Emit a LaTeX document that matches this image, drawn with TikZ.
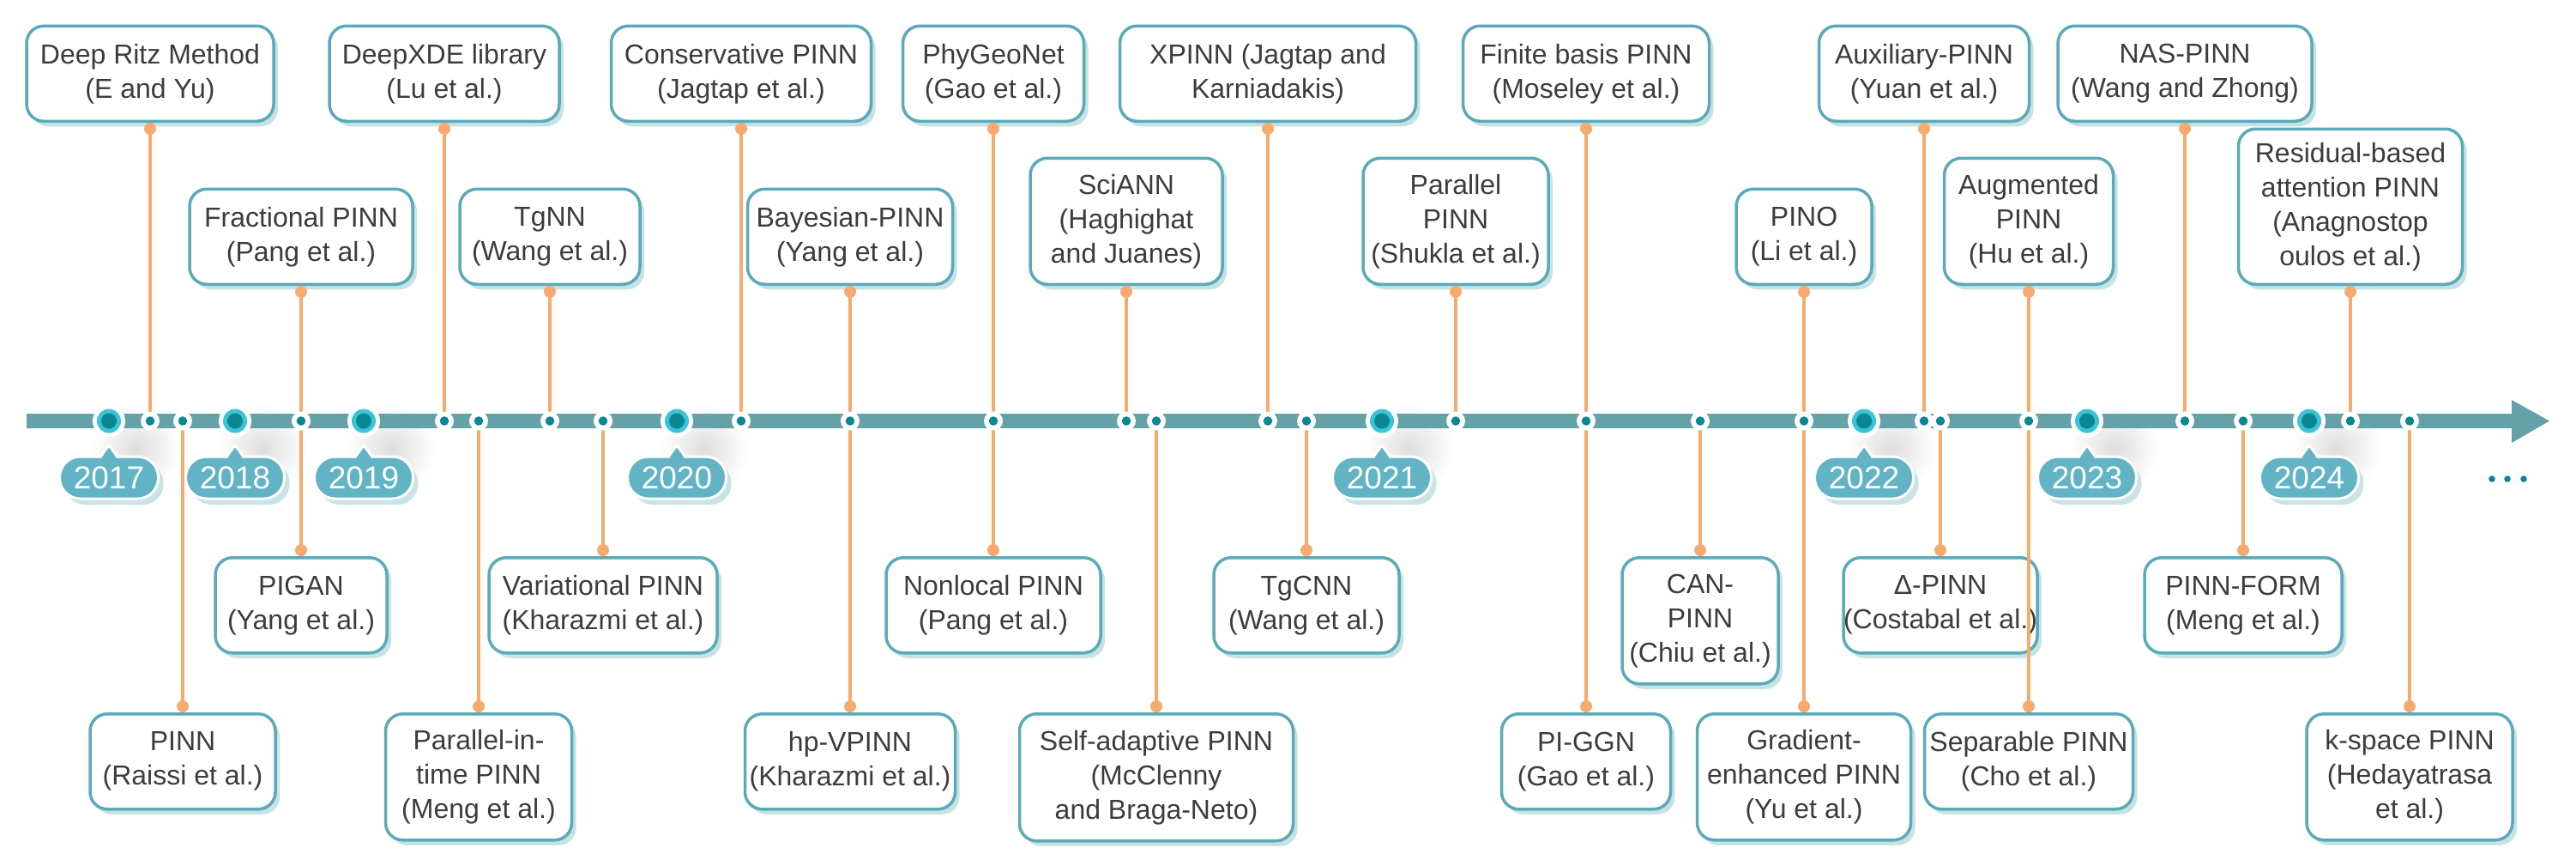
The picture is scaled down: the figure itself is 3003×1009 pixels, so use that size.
\documentclass[tikz,border=0pt]{standalone}
\usepackage{fontspec}
\setmainfont{Liberation Sans}
\usetikzlibrary{calc,shadows}
\definecolor{axisc}{HTML}{64A2A8}
\definecolor{dotc}{HTML}{0B8794}
\definecolor{cyanc}{HTML}{3BC4D6}
\definecolor{bubc}{HTML}{62B4C4}
\definecolor{bubsh}{HTML}{C9E3E6}
\definecolor{boxc}{HTML}{5AAAB9}
\definecolor{boxsh}{HTML}{C6E2E5}
\definecolor{linec}{HTML}{F7AA6E}
\definecolor{txtc}{HTML}{3C3C3C}
\newcommand\evtop[6]{%
  \node[evbox, minimum width=#4pt, minimum height=#5pt, anchor=south] (#1) at (#2,#3) {#6};
  \coordinate (#1-ax) at (#2,490.5);
  \draw[conn] (#1.south) -- (#1-ax);
  \fill[linec] ($(#1.south)+(0pt,-7pt)$) circle (7pt);
}
\newcommand\evbot[6]{%
  \node[evbox, minimum width=#4pt, minimum height=#5pt, anchor=north] (#1) at (#2,#3) {#6};
  \coordinate (#1-ax) at (#2,490.5);
  \draw[conn] (#1.north) -- (#1-ax);
  \fill[linec] ($(#1.north)+(0pt,7pt)$) circle (7pt);
}
\newcommand\yearmark[2]{%
  \node[yearbub] (y#2) at (#1,556.5) {#2};
  \fill[bubc] (#1-10,536) -- (#1,520) -- (#1+10,536) -- cycle;
  \draw[white, line width=3pt, line join=round] (#1-11,533) -- (#1,519) -- (#1+11,533);
}
\begin{document}
\begin{tikzpicture}[x=1pt,y=-1pt,
  evbox/.style={draw=boxc, line width=3.5pt, rounded corners=20pt, fill=white,
    align=center, text=txtc, font=\fontsize{32}{40}\selectfont, inner sep=0pt,
    drop shadow={fill=boxsh, opacity=1, shadow xshift=5pt, shadow yshift=-6pt}},
  conn/.style={draw=linec, line width=3.2pt},
  yearbub/.style={fill=bubc, draw=white, line width=3pt, rounded corners=24pt,
    minimum width=115pt, minimum height=49pt, inner sep=0pt, text=white,
    font=\fontsize{37}{40}\selectfont,
    drop shadow={fill=bubsh, opacity=1, shadow xshift=6pt, shadow yshift=-7pt}},
]
\useasboundingbox (0,0) rectangle (3003,1009);
\fill[white] (0,0) rectangle (3003,1009);

% soft glows under year markers
\foreach \yx in {127,274,424,789,1611,2173,2433,2692}{
  \shade[inner color=black!13, outer color=white] (\yx+32,522) circle (52pt);
}

% axis
\fill[axisc] (31,482) rectangle (2930,499);
\fill[axisc] (2928,466) -- (2972,490.5) -- (2928,516) -- cycle;
\coordinate (arrowtip) at (2972,490.5);

% top, outer tier
\evtop{tDR}{175}{143}{288}{111}{Deep Ritz Method\\(E and Yu)}
\evtop{tDX}{518}{143}{268}{111}{DeepXDE library\\(Lu et al.)}
\evtop{tCP}{864}{143}{303}{111}{Conservative PINN\\(Jagtap et al.)}
\evtop{tPG}{1158}{143}{211}{111}{PhyGeoNet\\(Gao et al.)}
\evtop{tXP}{1478}{143}{345}{111}{XPINN (Jagtap and\\Karniadakis)}
\evtop{tFB}{1849}{143}{287}{111}{Finite basis PINN\\(Moseley et al.)}
\evtop{tAU}{2243}{143}{245}{111}{Auxiliary-PINN\\(Yuan et al.)}
\evtop{tNA}{2547}{143}{296}{111}{NAS-PINN\\(Wang and Zhong)}

% top, inner tier
\evtop{tFR}{351}{333}{260}{111}{Fractional PINN\\(Pang et al.)}
\evtop{tTG}{641}{333}{210}{111}{TgNN\\(Wang et al.)}
\evtop{tBA}{991}{333}{239}{111}{Bayesian-PINN\\(Yang et al.)}
\evtop{tSC}{1313}{333}{224}{147}{SciANN\\(Haghighat\\and Juanes)}
\evtop{tPP}{1697}{333}{216}{147}{Parallel\\PINN\\(Shukla et al.)}
\evtop{tPO}{2103}{333}{158}{111}{PINO\\(Li et al.)}
\evtop{tAG}{2365}{333}{197}{147}{Augmented\\PINN\\(Hu et al.)}
\evtop{tRB}{2740}{333}{261}{181}{Residual-based\\attention PINN\\(Anagnostop\\oulos et al.)}

% bottom, inner tier
\evbot{bPG}{351}{648}{200}{111}{PIGAN\\(Yang et al.)}
\evbot{bVP}{703}{648}{266}{111}{Variational PINN\\(Kharazmi et al.)}
\evbot{bNL}{1158}{648}{250}{111}{Nonlocal PINN\\(Pang et al.)}
\evbot{bTC}{1523}{648}{216}{111}{TgCNN\\(Wang et al.)}
\evbot{bCA}{1982}{648}{182}{147}{CAN-\\PINN\\(Chiu et al.)}
\evbot{bDP}{2262}{648}{226}{111}{Δ-PINN\\(Costabal et al.)}
\evbot{bPF}{2615}{648}{230}{111}{PINN-FORM\\(Meng et al.)}

% bottom, outer tier
\evbot{bPI}{213}{830}{216}{111}{PINN\\(Raissi et al.)}
\evbot{bPT}{558}{830}{217}{147}{Parallel-in-\\time PINN\\(Meng et al.)}
\evbot{bHP}{991}{830}{245}{111}{hp-VPINN\\(Kharazmi et al.)}
\evbot{bSA}{1348}{830}{319}{148}{Self-adaptive PINN\\(McClenny\\and Braga-Neto)}
\evbot{bGG}{1849}{830}{197}{111}{PI-GGN\\(Gao et al.)}
\evbot{bGE}{2103}{830}{249}{147}{Gradient-\\enhanced PINN\\(Yu et al.)}
\evbot{bSP}{2365}{830}{243}{111}{Separable PINN\\(Cho et al.)}
\evbot{bKS}{2809}{830}{240}{147}{k-space PINN\\(Hedayatrasa\\et al.)}

% event dots on the axis
\foreach \dx in {175,213,351,518,558,641,703,864,991,1158,1313,1348,1478,1523,1697,1849,1982,2103,2243,2262,2365,2547,2615,2740,2809}{
  \fill[white] (\dx,490.5) circle (11pt);
  \fill[dotc] (\dx,490.5) circle (5.3pt);
}

% year markers
\foreach \yx in {127,274,424,789,1611,2173,2433,2692}{
  \fill[white] (\yx,490.5) circle (19pt);
  \fill[cyanc] (\yx,490.5) circle (14pt);
  \fill[dotc] (\yx,490.5) circle (9pt);
}
\yearmark{127}{2017}
\yearmark{274}{2018}
\yearmark{424}{2019}
\yearmark{789}{2020}
\yearmark{1611}{2021}
\yearmark{2173}{2022}
\yearmark{2433}{2023}
\yearmark{2692}{2024}

% ellipsis
\foreach \ex in {2905,2923,2942}{
  \fill[dotc] (\ex,558) circle (3.8pt);
}
\end{tikzpicture}
\end{document}
